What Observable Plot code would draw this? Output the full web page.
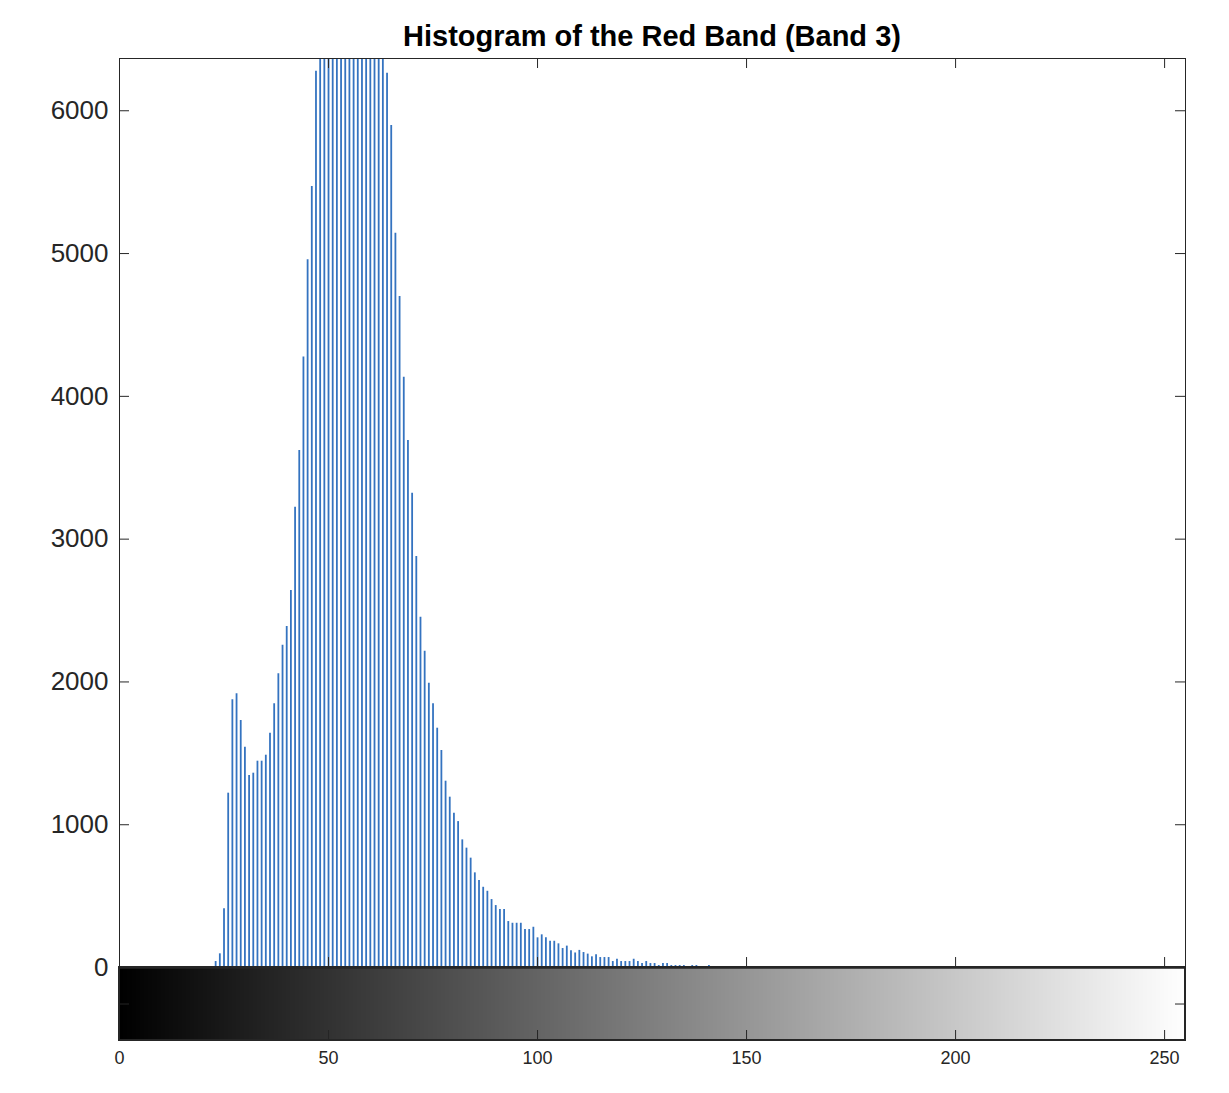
<!DOCTYPE html>
<html>
<head>
<meta charset="utf-8">
<script src="https://cdn.jsdelivr.net/npm/d3@7"></script>
<script src="https://cdn.jsdelivr.net/npm/@observablehq/plot@0.6"></script>
<style>
  html, body { margin: 0; padding: 0; background: #fff; }
  #wrap { width: 1229px; height: 1093px; position: relative; font-family: "Liberation Sans", Arial, Helvetica, sans-serif; }
  #title { position: absolute; z-index: 2; left: 119px; width: 1066px; top: 20px; line-height: 32px; text-align: center; font-weight: bold; font-size: 29px; color: #000; }
  #chart { position: absolute; z-index: 1; left: 0; top: 50px; }
</style>
</head>
<body>
<div id="wrap">
  <div id="title">Histogram of the Red Band (Band 3)</div>
  <div id="chart"></div>
</div>
<script>
// Histogram data (pixel counts per gray level)
const firstLevel = 23; // first gray level with a nonzero count; all lower levels are 0
const counts = [
  42, 96, 411, 1221, 1875, 1917, 1730, 1543, 1345, 1361,          // 23-32
  1445, 1445, 1487, 1641, 1847, 2057, 2257, 2388, 2640, 3224,     // 33-42
  3620, 4276, 4956, 5469, 6277, 6600, 6900, 7150, 7300, 7450,     // 43-52 (48+ clipped)
  7500, 7550, 7500, 7450, 7400, 7300, 7200, 7050, 6900, 6700,     // 53-62
  6500, 6263, 5896, 5142, 4699, 4134, 3690, 3321, 2878, 2453,     // 63-72
  2215, 1991, 1847, 1676, 1520, 1305, 1193, 1081, 1022, 894,      // 73-82
  836, 766, 663, 609, 562, 534, 476, 434, 406, 406,               // 83-92
  322, 310, 310, 310, 266, 266, 282, 208, 229, 208,               // 93-102
  184, 184, 166, 133, 150, 118, 102, 120, 105, 94,                // 103-112
  75, 89, 70, 70, 70, 42, 58, 42, 42, 42,                         // 113-122
  58, 42, 28, 42, 28, 28, 14, 28, 28, 14,                         // 123-132
  14, 14, 14, 0, 14, 14, 0, 0, 14                                 // 133-141
];
const nLevels = 256;
const xTicks = [0, 50, 100, 150, 200, 250];
const yTicks = [0, 1000, 2000, 3000, 4000, 5000, 6000];
const yMax = 6366;        // top of the histogram axes
const colorbarDepth = 511; // height of the gray colorbar strip, in count units
const cbMid = -colorbarDepth / 2;

const levels = d3.range(nLevels);
const hist = levels.map(v => ({
  level: v,
  count: (v >= firstLevel && v < firstLevel + counts.length) ? counts[v - firstLevel] : 0
}));
const grays = levels.map(v => ({ level: v, color: d3.rgb(v, v, v).formatHex() }));

const ink = "#262626";
const stemColor = "#3473c0";

const chart = Plot.plot({
  width: 1229,
  height: 1043,
  marginLeft: 119,
  marginRight: 44,
  marginTop: 8,
  marginBottom: 53,
  style: { fontFamily: '"Liberation Sans", Arial, Helvetica, sans-serif', color: ink, background: "transparent" },
  x: { domain: [0, nLevels - 1] },
  y: { domain: [-colorbarDepth, yMax] },
  color: { type: "identity" },
  marks: [
    // colorbar gradient
    Plot.rect(grays, { x1: "level", x2: d => d.level + 1, y1: -colorbarDepth, y2: 0, fill: "color", shapeRendering: "crispEdges", clip: true }),
    // histogram stems
    Plot.ruleX(hist, { x: "level", y1: 0, y2: "count", stroke: stemColor, strokeWidth: 1.8, clip: true }),
    // histogram frame
    Plot.frame({ stroke: ink, strokeWidth: 1 }),
    // colorbar box
    Plot.rect([0], { x1: 0, x2: nLevels - 1, y1: -colorbarDepth, y2: 0, fill: "none", stroke: ink, strokeWidth: 2 }),
    // separator line at zero
    Plot.ruleY([0], { stroke: ink, strokeWidth: 2.5 }),
    // inward tick marks: y on left and right
    Plot.ruleY(yTicks, { y: d => d, x1: 0, x2: 0, insetRight: -10, stroke: ink, strokeWidth: 1 }),
    Plot.ruleY(yTicks, { y: d => d, x1: nLevels - 1, x2: nLevels - 1, insetLeft: -10, stroke: ink, strokeWidth: 1 }),
    // colorbar middle ticks
    Plot.ruleY([cbMid], { y: d => d, x1: 0, x2: 0, insetRight: -10, stroke: ink, strokeWidth: 1 }),
    Plot.ruleY([cbMid], { y: d => d, x1: nLevels - 1, x2: nLevels - 1, insetLeft: -10, stroke: ink, strokeWidth: 1 }),
    // x ticks: histogram bottom (up), top (down), colorbar bottom (up)
    Plot.ruleX(xTicks, { x: d => d, y1: 0, y2: 0, insetBottom: 10, stroke: ink, strokeWidth: 1 }),
    Plot.ruleX(xTicks, { x: d => d, y1: yMax, y2: yMax, insetTop: 10, stroke: ink, strokeWidth: 1 }),
    Plot.ruleX(xTicks, { x: d => d, y1: -colorbarDepth, y2: -colorbarDepth, insetBottom: 10, stroke: ink, strokeWidth: 1 }),
    // axes labels
    Plot.axisY(yTicks, { anchor: "left", tickSize: 0, tickPadding: 11, fontSize: 26, label: null, tickFormat: d => String(d) }),
    Plot.axisX(xTicks, { anchor: "bottom", tickSize: 0, tickPadding: 11, fontSize: 18, label: null, tickFormat: d => String(d) })
  ]
});
document.getElementById("chart").appendChild(chart);
</script>
</body>
</html>
